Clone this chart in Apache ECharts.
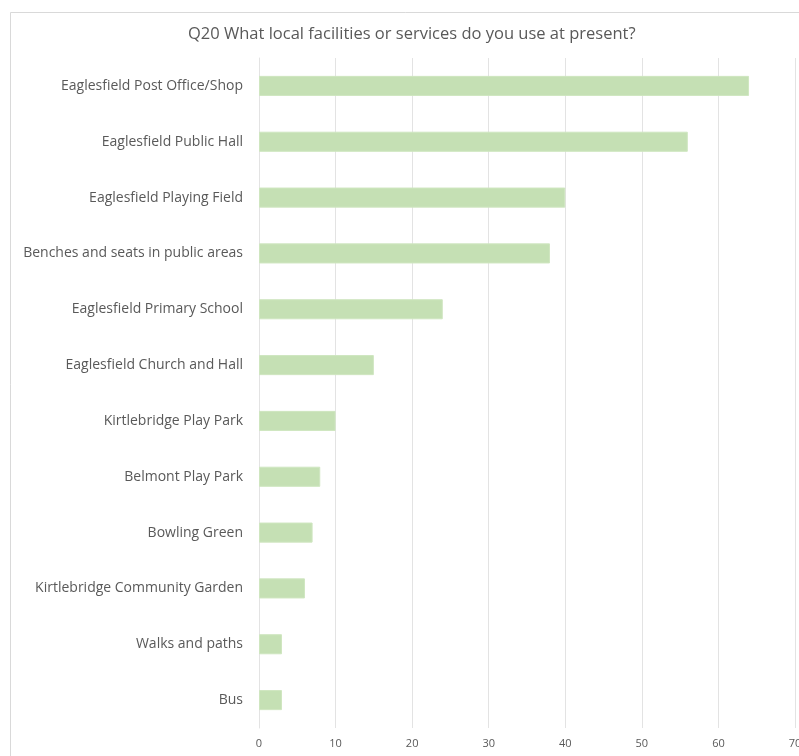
<!DOCTYPE html>
<html>
<head>
<meta charset="utf-8">
<script src="https://cdn.jsdelivr.net/npm/echarts@6/dist/echarts.min.js"></script>
<style>html,body{margin:0;padding:0;background:#fff;}#c{width:799px;height:756px;}</style>
</head>
<body>
<div id="c"></div>
<script>
const titleText = "Q20 What local facilities or services do you use at present?";
const categories = [
  "Eaglesfield Post Office/Shop",
  "Eaglesfield Public Hall",
  "Eaglesfield Playing Field",
  "Benches and seats in public areas",
  "Eaglesfield Primary School",
  "Eaglesfield Church and Hall",
  "Kirtlebridge Play Park",
  "Belmont Play Park",
  "Bowling Green",
  "Kirtlebridge Community Garden",
  "Walks and paths",
  "Bus"
];
const values = [64, 56, 40, 38, 24, 15, 10, 8, 7, 6, 3, 3];
const xMin = 0, xMax = 70, xStep = 10;

const chart = echarts.init(document.getElementById('c'), null, {renderer: 'canvas'});
chart.setOption({
  animation: false,
  backgroundColor: '#ffffff',
  textStyle: {fontFamily: 'Open Sans'},
  graphic: [{
    type: 'rect', left: 8, top: 10, silent: true,
    shape: {x: 0, y: 0, width: 900, height: 800},
    style: {fill: 'none', stroke: '#d9d9d9', lineWidth: 1}
  }],
  title: {
    text: titleText, left: 183, top: 21,
    textStyle: {fontFamily: 'Open Sans', fontSize: 16.5, fontWeight: 'normal', color: '#595959'}
  },
  grid: {left: 259, right: 4, top: 58, bottom: 28, containLabel: false, outerBoundsMode: 'none'},
  xAxis: {
    type: 'value', min: xMin, max: xMax, interval: xStep,
    axisLine: {show: false}, axisTick: {show: false},
    splitLine: {show: true, lineStyle: {color: '#e3e3e3', width: 1}},
    axisLabel: {color: '#595959', fontSize: 11, margin: 10, fontFamily: 'Open Sans'}
  },
  yAxis: {
    type: 'category', data: categories, inverse: true,
    axisLine: {show: true, lineStyle: {color: '#e3e3e3'}}, axisTick: {show: false},
    axisLabel: {color: '#595959', fontSize: 14, margin: 16, fontFamily: 'Open Sans'}
  },
  series: [{
    type: 'bar', data: values, barCategoryGap: '64%',
    itemStyle: {color: '#c5e0b4', borderColor: '#cfe6c0', borderWidth: 1}
  }]
});
</script>
</body>
</html>
